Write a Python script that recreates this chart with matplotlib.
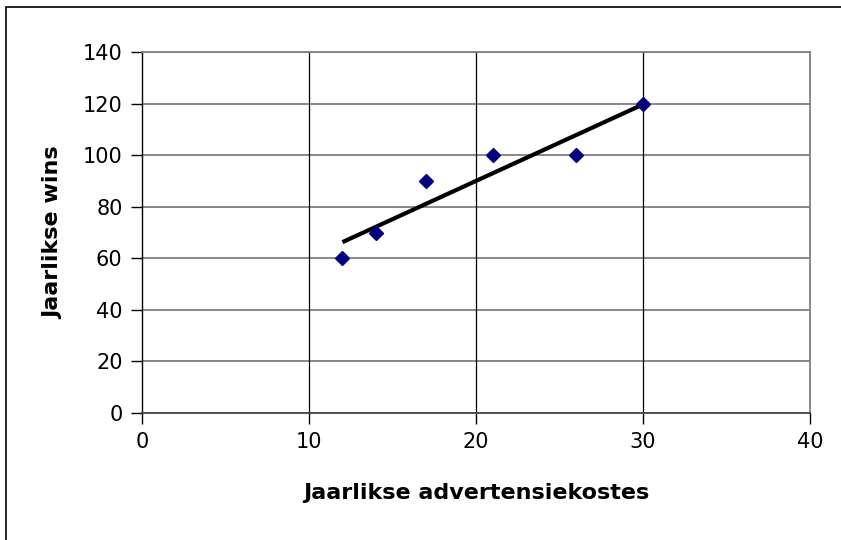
import numpy as np
import matplotlib.pyplot as plt
from matplotlib.patches import Rectangle

plt.rcParams['font.family'] = ['DejaVu Sans']

# advertensiekoste vs wins
kostes = [12, 14, 17, 21, 26, 30]
wins = [60, 70, 90, 100, 100, 120]
xticks = [0, 10, 20, 30, 40]
yticks = [0, 20, 40, 60, 80, 100, 120, 140]

W, H = 841, 540
fig = plt.figure(figsize=[W/100., H/100.], dpi=100)
fig.patches.append(Rectangle((6./W, -1), 2, 2-7./H, transform=fig.transFigure,
                             fill=False, edgecolor='k', linewidth=1.2))

ax = fig.add_axes([142./W, 1-413./H, (810-142.)/W, (413-52.)/H])
ax.set_xlim(0, 40)
ax.set_ylim(0, 140)
ax.set_xticks(xticks)
ax.set_yticks(yticks)

for y in yticks[1:]:
    ax.axhline(y, color='#808080', linewidth=1.3, zorder=1)
for x in xticks[1:-1]:
    ax.axvline(x, color='k', linewidth=0.9, zorder=1)

for s in ['top', 'right']:
    ax.spines[s].set_color('#808080')
    ax.spines[s].set_linewidth(1.3)
ax.spines['left'].set_color('k')
ax.spines['left'].set_linewidth(1.0)
ax.spines['bottom'].set_color('#404040')
ax.spines['bottom'].set_linewidth(1.3)
ax.tick_params(direction='out', length=8, width=1.0, labelsize=15, pad=6)

# trendlyn
p = np.polyfit(kostes, wins, 1)
tx = np.array([min(kostes), max(kostes)])
ax.plot(tx, np.polyval(p, tx), color='k', linewidth=3, zorder=3, solid_capstyle='butt')

ax.plot(kostes, wins, 'D', color='#000080', markersize=7, zorder=4, linestyle='none')

ax.set_xlabel('Jaarlikse advertensiekostes', fontsize=16, fontweight='bold', labelpad=22)
ax.set_ylabel('Jaarlikse wins', fontsize=16, fontweight='bold', labelpad=14)

fig.savefig('out.png', dpi=100, facecolor='w')
